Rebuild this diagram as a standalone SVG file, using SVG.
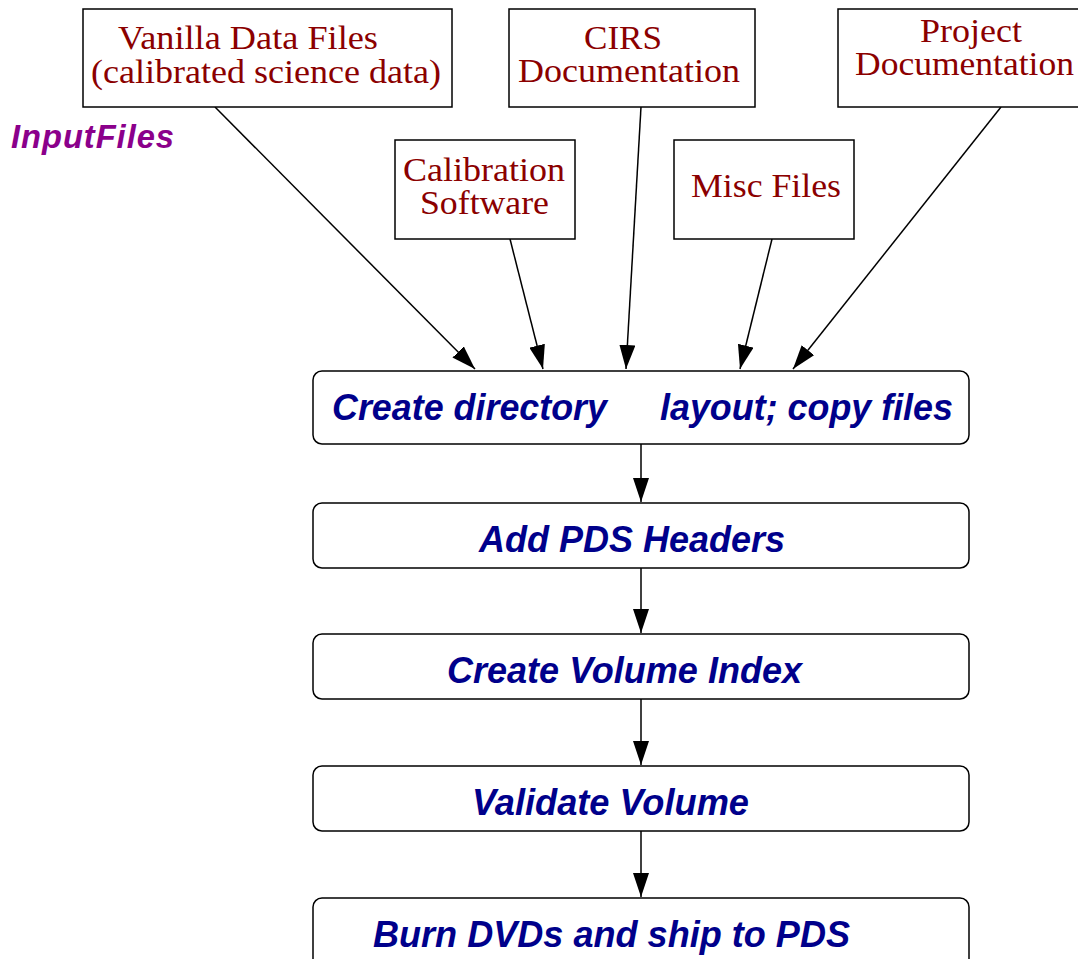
<svg xmlns="http://www.w3.org/2000/svg" width="1078" height="959" viewBox="0 0 1078 959">
<style>
.in rect{fill:#fff;stroke:#000;stroke-width:1.5}
.in text{font-family:"Liberation Serif",serif;font-size:33px;fill:#8b0000}
.pr rect{fill:#fff;stroke:#000;stroke-width:1.5}
.pr text{font-family:"Liberation Sans",Arial,sans-serif;font-size:36px;font-weight:bold;font-style:italic;fill:#00008b}
.lbl{font-family:"Liberation Sans",Arial,sans-serif;font-size:34px;font-weight:bold;font-style:italic;fill:#8b008b;letter-spacing:1px}
#connectors line{stroke:#000;stroke-width:1.5;marker-end:url(#ah)}
</style>
<defs>
<marker id="ah" viewBox="0 0 24 16" refX="24" refY="8" markerWidth="24" markerHeight="16" markerUnits="userSpaceOnUse" orient="auto">
<path d="M0,0 L24,8 L0,16 Z" fill="#000"/>
</marker>
</defs>
<rect width="1078" height="959" fill="#fff"/>
<text class="lbl" x="11" y="148" textLength="164" lengthAdjust="spacingAndGlyphs">InputFiles</text>
<g id="connectors">
<line x1="215" y1="107" x2="475" y2="369"/>
<line x1="510" y1="239" x2="543" y2="369"/>
<line x1="641" y1="107" x2="626" y2="369"/>
<line x1="772" y1="239" x2="740" y2="369"/>
<line x1="1001" y1="107" x2="793" y2="369"/>
<line x1="641" y1="444" x2="641" y2="502"/>
<line x1="641" y1="568" x2="641" y2="633"/>
<line x1="641" y1="699" x2="641" y2="765"/>
<line x1="641" y1="831" x2="641" y2="897"/>
</g>
<g id="vanilla" class="in">
<rect x="83" y="9" width="369" height="98"/>
<text x="118" y="49" textLength="260" lengthAdjust="spacingAndGlyphs">Vanilla Data Files</text>
<text x="91" y="83" textLength="350" lengthAdjust="spacingAndGlyphs">(calibrated science data)</text>
</g>
<g id="cirs" class="in">
<rect x="509" y="9" width="246" height="98"/>
<text x="584" y="49" textLength="78" lengthAdjust="spacingAndGlyphs">CIRS</text>
<text x="518" y="82" textLength="222" lengthAdjust="spacingAndGlyphs">Documentation</text>
</g>
<g id="project" class="in">
<rect x="838" y="9" width="245" height="98"/>
<text x="920" y="42" textLength="102" lengthAdjust="spacingAndGlyphs">Project</text>
<text x="855" y="75" textLength="219" lengthAdjust="spacingAndGlyphs">Documentation</text>
</g>
<g id="calib" class="in">
<rect x="395" y="140" width="180" height="99"/>
<text x="403" y="181" textLength="162" lengthAdjust="spacingAndGlyphs">Calibration</text>
<text x="420" y="214" textLength="129" lengthAdjust="spacingAndGlyphs">Software</text>
</g>
<g id="misc" class="in">
<rect x="674" y="140" width="180" height="99"/>
<text x="691" y="197" textLength="150" lengthAdjust="spacingAndGlyphs">Misc Files</text>
</g>
<g id="step1" class="pr">
<rect x="313" y="371" width="656" height="73" rx="9"/>
<text x="332" y="420" textLength="275" lengthAdjust="spacingAndGlyphs">Create directory</text>
<text x="660" y="420" textLength="293" lengthAdjust="spacingAndGlyphs">layout; copy files</text>
</g>
<g id="step2" class="pr">
<rect x="313" y="503" width="656" height="65" rx="9"/>
<text x="479" y="552" textLength="306" lengthAdjust="spacingAndGlyphs">Add PDS Headers</text>
</g>
<g id="step3" class="pr">
<rect x="313" y="634" width="656" height="65" rx="9"/>
<text x="447" y="683" textLength="355" lengthAdjust="spacingAndGlyphs">Create Volume Index</text>
</g>
<g id="step4" class="pr">
<rect x="313" y="766" width="656" height="65" rx="9"/>
<text x="472" y="815" textLength="277" lengthAdjust="spacingAndGlyphs">Validate Volume</text>
</g>
<g id="step5" class="pr">
<rect x="313" y="898" width="656" height="80" rx="9"/>
<text x="373" y="947" textLength="477" lengthAdjust="spacingAndGlyphs">Burn DVDs and ship to PDS</text>
</g>
</svg>
